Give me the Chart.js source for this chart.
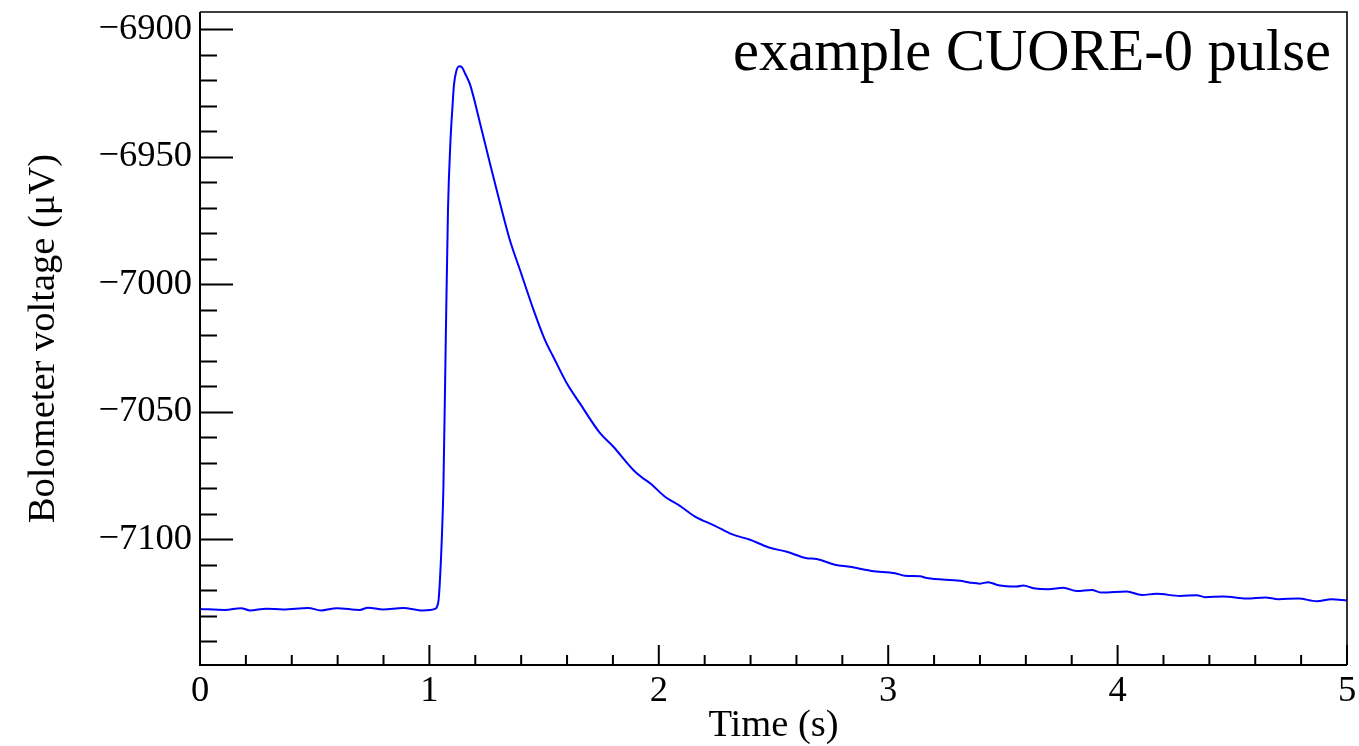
<!DOCTYPE html>
<html>
<head>
<meta charset="utf-8">
<title>example CUORE-0 pulse</title>
<script src="https://cdn.jsdelivr.net/npm/chart.js@4/dist/chart.umd.min.js"></script>
<style>
  html, body { margin: 0; padding: 0; background: #ffffff; }
  canvas { display: block; }
</style>
</head>
<body>
<canvas id="pulse" width="1359" height="746"></canvas>
<script>
// Sampled bolometer waveform: time in seconds, voltage in microvolts
const timeS = [
  0.000, 0.109, 0.179, 0.218, 0.288, 0.362, 0.471, 0.527, 0.597, 0.697,
  0.732, 0.798, 0.885, 0.972, 1.024,
  1.033, 1.040, 1.046, 1.054, 1.061, 1.071, 1.081, 1.092, 1.101, 1.107,
  1.116, 1.130, 1.142, 1.155, 1.177,
  1.221, 1.264, 1.308, 1.351, 1.395, 1.452, 1.504, 1.540, 1.599, 1.656,
  1.744, 1.802, 1.889, 1.932, 1.962, 2.027, 2.092, 2.158, 2.245, 2.318,
  2.398, 2.477, 2.558, 2.645, 2.688, 2.768, 2.834, 2.928, 3.030, 3.073,
  3.139, 3.168, 3.313, 3.357, 3.400, 3.436, 3.480, 3.560, 3.589, 3.633,
  3.698, 3.763, 3.822, 3.887, 3.931, 4.040, 4.105, 4.170, 4.272, 4.345,
  4.381, 4.461, 4.563, 4.643, 4.701, 4.788, 4.868, 4.933, 5.000
];
const voltageUV = [
  -7127.3, -7127.7, -7127.0, -7127.9, -7127.2, -7127.5, -7126.9, -7127.9, -7127.0, -7127.7,
  -7126.8, -7127.5, -7126.9, -7127.9, -7127.3,
  -7126.5, -7123.8, -7115.9, -7100.0, -7080.0, -7023.8, -6970.9, -6943.5, -6929.8, -6921.9,
  -6916.8, -6914.5, -6914.9, -6917.2, -6921.6,
  -6936.9, -6952.6, -6968.2, -6982.7, -6994.4, -7009.5, -7021.9, -7028.4, -7038.8, -7046.7,
  -7058.4, -7063.7, -7072.8, -7076.1, -7078.0, -7083.3, -7086.9, -7091.1, -7094.7, -7098.0,
  -7100.2, -7103.1, -7104.9, -7107.4, -7107.7, -7110.0, -7110.8, -7112.4, -7113.3, -7114.3,
  -7114.5, -7115.2, -7116.3, -7117.0, -7117.4, -7116.8, -7118.0, -7118.5, -7118.1, -7119.2,
  -7119.6, -7119.0, -7120.3, -7119.9, -7120.9, -7120.5, -7121.8, -7121.4, -7122.2, -7121.9,
  -7122.7, -7122.4, -7123.2, -7122.8, -7123.5, -7123.2, -7124.3, -7123.5, -7124.0
];

// Axis ticks and ranges
const xTicks = [0, 1, 2, 3, 4, 5];
const yTicks = [-6900, -6950, -7000, -7050, -7100];
const xRange = [0, 5];
const yRange = [-7149.3, -6893.2];
const minorDivisions = 5;

const plotTitle = 'example CUORE-0 pulse';
const xTitle = 'Time (s)';
const yTitle = 'Bolometer voltage (\u03BCV)';

const SERIF = '"Liberation Serif", "DejaVu Serif", serif';

// Frame, inward tick marks and the in-plot caption
const frameAndTicks = {
  id: 'frameAndTicks',
  afterDatasetsDraw(chart) {
    const { ctx, chartArea: a, scales: { x, y } } = chart;
    ctx.save();
    ctx.strokeStyle = '#000000';
    ctx.lineCap = 'butt';

    // x-axis ticks (pointing up from the bottom edge)
    ctx.lineWidth = 2;
    const xStep = (xTicks[1] - xTicks[0]) / minorDivisions;
    for (let i = 0; i <= (xRange[1] - xRange[0]) / xStep + 1e-6; i++) {
      const v = xRange[0] + i * xStep;
      const px = x.getPixelForValue(v);
      const major = i % minorDivisions === 0;
      ctx.beginPath();
      ctx.moveTo(px, a.bottom);
      ctx.lineTo(px, a.bottom - (major ? 20 : 10));
      ctx.stroke();
    }

    // y-axis ticks (pointing right from the left edge)
    const yStep = (yTicks[0] - yTicks[1]) / minorDivisions;
    const startY = Math.ceil(yRange[0] / yStep) * yStep;
    for (let v = startY; v <= yRange[1] + 1e-6; v += yStep) {
      const py = Math.round(y.getPixelForValue(v)) + 0.5;
      const major = Math.abs(Math.round(v / yStep) % minorDivisions) === 0;
      ctx.beginPath();
      ctx.moveTo(a.left, py);
      ctx.lineTo(a.left + (major ? 33 : 17), py);
      ctx.stroke();
    }

    // frame
    ctx.lineWidth = 2;
    ctx.beginPath();
    ctx.moveTo(a.left, a.top);
    ctx.lineTo(a.left, a.bottom);
    ctx.lineTo(a.right, a.bottom);
    ctx.stroke();
    ctx.lineWidth = 1.6;
    ctx.beginPath();
    ctx.moveTo(a.left, a.top);
    ctx.lineTo(a.right, a.top);
    ctx.lineTo(a.right, a.bottom);
    ctx.stroke();

    // caption
    ctx.fillStyle = '#000000';
    ctx.font = '58.5px ' + SERIF;
    ctx.textAlign = 'right';
    ctx.textBaseline = 'alphabetic';
    ctx.fillText(plotTitle, a.right - 16, 70);
    ctx.restore();
  }
};

const points = timeS.map((t, i) => ({ x: t, y: voltageUV[i] }));

new Chart(document.getElementById('pulse'), {
  type: 'line',
  data: {
    datasets: [{
      data: points,
      borderColor: '#0000ff',
      borderWidth: 2,
      pointRadius: 0,
      fill: false,
      cubicInterpolationMode: 'monotone'
    }]
  },
  options: {
    responsive: false,
    animation: false,
    events: [],
    layout: { padding: { top: 12, right: 12, bottom: 0, left: 0 } },
    plugins: {
      legend: { display: false },
      tooltip: { enabled: false },
      title: { display: false }
    },
    scales: {
      x: {
        type: 'linear',
        min: xRange[0],
        max: xRange[1],
        grid: { display: false, drawTicks: false },
        border: { display: false },
        afterBuildTicks: s => { s.ticks = xTicks.map(v => ({ value: v })); },
        afterFit: s => { s.height = 81; s.paddingLeft = 0; s.paddingRight = 0; },
        ticks: {
          color: '#000000',
          padding: 5,
          maxRotation: 0,
          autoSkip: false,
          font: { family: SERIF, size: 36.5 },
          callback: v => String(v)
        },
        title: {
          display: true,
          text: xTitle,
          color: '#000000',
          font: { family: SERIF, size: 38.5, lineHeight: 1 },
          padding: { top: 0, bottom: 1 }
        }
      },
      y: {
        type: 'linear',
        min: yRange[0],
        max: yRange[1],
        grid: { display: false, drawTicks: false },
        border: { display: false },
        afterBuildTicks: s => { s.ticks = yTicks.map(v => ({ value: v })); },
        afterFit: s => { s.width = 200; s.paddingTop = 0; s.paddingBottom = 0; },
        ticks: {
          color: '#000000',
          padding: 8,
          autoSkip: false,
          font: { family: SERIF, size: 36.5 },
          callback: v => String(v).replace('-', '\u2212')
        },
        title: {
          display: true,
          text: yTitle,
          color: '#000000',
          font: { family: SERIF, size: 38.5, lineHeight: 1 },
          padding: { top: 25, bottom: 0 }
        }
      }
    }
  },
  plugins: [frameAndTicks]
});
</script>
</body>
</html>
